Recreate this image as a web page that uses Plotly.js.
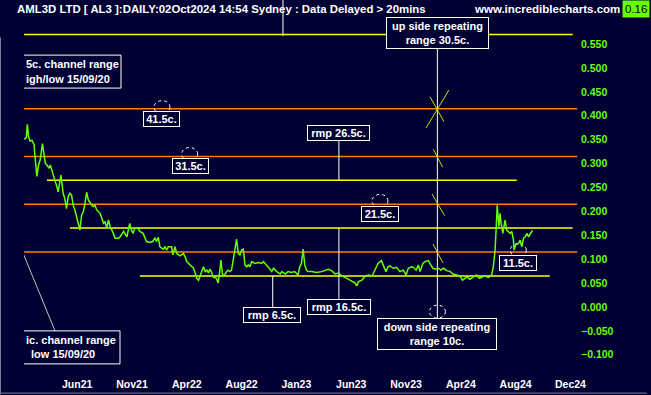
<!DOCTYPE html>
<html>
<head>
<meta charset="utf-8">
<script src="https://cdn.plot.ly/plotly-3.0.1.min.js"></script>
<style>html,body{margin:0;padding:0;background:#000033;}#chart{width:651px;height:395px;}</style>
</head>
<body>
<div id="chart"></div>
<script>
// ---- data (x = trading-day bar number, y = price in $) ----
const bars = [0,4,6,8,11,14,17,18,20,23,26,29,33,36,38,41,45,47,50,52,55,58,61,66,68,70,73,76,79,82,85,88,91,94,97,100,103,106,109,112,115,118,121,124,127,130,136,139,142,145,148,151,154,157,160,163,169,172,178,181,184,189,192,195,198,204,207,213,216,219,225,230,234,237,240,243,249,252,255,258,264,266,270,273,279,285,288,291,297,303,306,309,312,315,318,321,324,327,330,332,335,338,344,347,350,352,355,359,362,365,368,371,374,377,380,383,386,389,392,395,398,401,404,407,413,419,425,428,434,440,443,446,452,458,461,467,472,478,484,490,493,496,499,502,505,508,514,523,532,538,544,550,556,562,568,574,580,586,592,595,598,604,610,616,622,624,627,630,633,639,642,647,651,654,660,666,672,678,683,687,693,696,701,705,708,713,717,723,726,731,736,741,745,750,756,762,767,775,779,784,788,792,797,803,809,814,818,824,830,836,839,842,844,846,849,851,853,856,858,860,863,866,869,872,875,876,879,884,887,890,893,896,899,902,905,909];
const price = [0.351,0.354,0.382,0.356,0.347,0.349,0.342,0.339,0.311,0.273,0.297,0.308,0.342,0.318,0.301,0.297,0.290,0.297,0.287,0.276,0.266,0.255,0.241,0.276,0.255,0.238,0.227,0.206,0.231,0.238,0.234,0.213,0.203,0.189,0.178,0.161,0.192,0.199,0.217,0.240,0.224,0.217,0.213,0.210,0.213,0.203,0.196,0.186,0.175,0.178,0.165,0.182,0.168,0.161,0.151,0.144,0.144,0.147,0.158,0.151,0.147,0.175,0.161,0.154,0.165,0.165,0.158,0.154,0.146,0.137,0.135,0.137,0.144,0.137,0.146,0.126,0.121,0.126,0.119,0.126,0.126,0.109,0.126,0.112,0.107,0.112,0.105,0.095,0.088,0.081,0.071,0.060,0.056,0.067,0.074,0.084,0.074,0.077,0.071,0.079,0.074,0.063,0.060,0.050,0.074,0.098,0.067,0.067,0.074,0.077,0.074,0.077,0.098,0.119,0.142,0.112,0.109,0.119,0.121,0.088,0.084,0.088,0.084,0.095,0.091,0.093,0.091,0.095,0.088,0.079,0.074,0.081,0.074,0.069,0.074,0.069,0.074,0.072,0.074,0.067,0.084,0.091,0.121,0.088,0.077,0.074,0.074,0.072,0.074,0.076,0.079,0.076,0.069,0.071,0.065,0.062,0.058,0.053,0.050,0.044,0.053,0.056,0.065,0.067,0.065,0.069,0.077,0.084,0.091,0.097,0.088,0.074,0.084,0.086,0.081,0.083,0.074,0.077,0.067,0.081,0.084,0.083,0.077,0.088,0.074,0.091,0.095,0.097,0.090,0.081,0.079,0.081,0.077,0.081,0.076,0.074,0.069,0.067,0.065,0.056,0.060,0.063,0.058,0.063,0.067,0.060,0.062,0.065,0.062,0.067,0.084,0.116,0.161,0.213,0.168,0.196,0.175,0.154,0.168,0.182,0.161,0.158,0.154,0.158,0.140,0.119,0.130,0.133,0.140,0.126,0.144,0.147,0.154,0.147,0.154,0.160];
const tickBars = [95,193,291,389,487,585,683,781,879,977];
const tickText = ['Jun21','Nov21','Apr22','Aug22','Jan23','Jun23','Nov23','Apr24','Aug24','Dec24'];
const priceTicks = [-0.1,-0.05,0,0.05,0.1,0.15,0.2,0.25,0.3,0.35,0.4,0.45,0.5,0.55];
const orangeLevels = [0.415,0.315,0.215,0.115];
const yellowLevels = [0.57,0.265,0.165,0.065];
const rangeLabels = ['41.5c.','31.5c.','21.5c.','11.5c.'];
const lastPrice = 0.16;

// ---- styling ----
const BG = '#000033', GREEN = '#66ff00', ORANGE = '#ff8000', YELLOW = '#ffff00', WHITE = '#ffffff';
const FONT = 'Liberation Sans, Arial, sans-serif';

const shapes = [];
// orange channel lines
orangeLevels.forEach(v => shapes.push({type:'line', xref:'x', yref:'y', x0:-30, x1:989, y0:v, y1:v, line:{color:ORANGE, width:1.5}, layer:'below'}));
// yellow repeating-range lines
const yStart = [-30, 41, 82, 207], yEnd = [981, 881, 981, 940];
yellowLevels.forEach((v,i) => shapes.push({type:'line', xref:'x', yref:'y', x0:yStart[i], x1:yEnd[i], y0:v, y1:v, line:{color:YELLOW, width:1.5}, layer:'below'}));
// white connector lines
function wline(x0,y0,x1,y1,c){ shapes.push({type:'line', xref:'x', yref:'y', x0, y0, x1, y1, line:{color:c||WHITE, width:1}, layer:'below'}); }
wline(463, 0.567, 463, 0.7);
wline(739, 0.54, 739, -0.023);
wline(563, 0.347, 563, 0.265);
wline(563, 0.165, 563, 0.017);
wline(444.6, 0.065, 444.6, 0.0);
wline(-7, 0.128, 55.4, -0.050, '#c0c0c0');
// yellow tick marks on the range line
const TY = '#d8d800';
wline(718.7, 0.3745, 759.8, 0.454, TY);
wline(725.8, 0.44, 750.8, 0.3877, TY);
wline(731.7, 0.33, 748.5, 0.2923, TY);
wline(729.4, 0.2364, 752.1, 0.191, TY);
wline(731.2, 0.1318, 749.1, 0.092, TY);
// dashed circles
[[246.7,0.418],[296.2,0.320],[636.4,0.222],[883.7,0.119],[739.2,-0.0098]].forEach(c => shapes.push({
  type:'circle', xref:'x', yref:'y', xsizemode:'pixel', ysizemode:'pixel', xanchor:c[0], yanchor:c[1],
  x0:-8, x1:8, y0:-6.5, y1:6.5, line:{color:WHITE, width:1, dash:'dot'}, layer:'below'}));
// clipped boxes at left edge
shapes.push({type:'rect', xref:'x', yref:'y', x0:-30, x1:173.4, y0:0.458, y1:0.527, line:{color:WHITE, width:1}, fillcolor:BG, layer:'below'});
shapes.push({type:'rect', xref:'x', yref:'y', x0:-30, x1:171.6, y0:-0.119, y1:-0.050, line:{color:WHITE, width:1}, fillcolor:BG, layer:'below'});
// frame edges of the picture (left and bottom)
shapes.push({type:'line', xref:'paper', yref:'paper', x0:-0.0423, x1:-0.0423, y0:-0.049, y1:0.9, line:{color:'#8080a0', width:1}});
shapes.push({type:'line', xref:'paper', yref:'paper', x0:-0.0423, x1:1.12, y0:-0.0455, y1:-0.0455, line:{color:'#8080a0', width:1}});

const boxFont = {family:FONT, size:11, color:WHITE, weight:'bold'};
function box(text, x, y, w, h){
  const a = {text, x, y, xref:'x', yref:'y', showarrow:false, font:boxFont, bgcolor:BG, bordercolor:WHITE, borderwidth:1, borderpad:1, width:w, xanchor:'center', yanchor:'middle'};
  if (h) a.height = h;
  return a;
}
const annotations = [
  box(rangeLabels[0], 245.8, 0.394, 33),
  box(rangeLabels[1], 296.8, 0.294, 33),
  box(rangeLabels[2], 636.4, 0.1956, 34),
  box(rangeLabels[3], 883.2, 0.091, 34),
  box('rmp 26.5c.', 562.3, 0.365, 59),
  box('rmp 16.5c.', 563.2, -0.001, 60),
  box('rmp 6.5c.', 443.4, -0.0178, 54),
  box('up side repeating<br>range 30.5c.', 739.2, 0.573, 99, 28),
  box('down side repeating<br>range 10c.', 738.4, -0.0565, 116, 28),
  {text:'5c. channel range', x:0, y:0.508, xref:'x', yref:'y', xanchor:'left', yanchor:'middle', showarrow:false, font:boxFont},
  {text:'igh/low 15/09/20', x:0, y:0.477, xref:'x', yref:'y', xanchor:'left', yanchor:'middle', showarrow:false, font:boxFont},
  {text:'ic. channel range', x:0, y:-0.069, xref:'x', yref:'y', xanchor:'left', yanchor:'middle', showarrow:false, font:boxFont},
  {text:'low 15/09/20', x:8.9, y:-0.098, xref:'x', yref:'y', xanchor:'left', yanchor:'middle', showarrow:false, font:boxFont},
  {text:'AML3D LTD [ AL3 ]:DAILY:02Oct2024 14:54 Sydney : Data Delayed > 20mins', xref:'paper', yref:'paper', x:-0.0162, y:0.976, xanchor:'left', yanchor:'middle', showarrow:false, font:{family:FONT, size:11.4, color:WHITE, weight:'bold'}},
  {text:'www.incrediblecharts.com', xref:'paper', yref:'paper', x:1.0755, y:0.976, xanchor:'right', yanchor:'middle', showarrow:false, font:{family:FONT, size:11.5, color:WHITE, weight:'bold'}},
  {text:lastPrice.toFixed(2), xref:'paper', yref:'paper', x:1.1007, y:0.976, xanchor:'center', yanchor:'middle', showarrow:false, bgcolor:GREEN, borderpad:2, font:{family:FONT, size:11.5, color:'#000000'}}
];

const trace = {x:bars, y:price, type:'scatter', mode:'lines', line:{color:GREEN, width:1.5}, hoverinfo:'skip'};

const layout = {
  width:651, height:395,
  margin:{l:24, r:71, t:0, b:19, pad:0},
  paper_bgcolor:BG, plot_bgcolor:BG,
  showlegend:false,
  xaxis:{range:[0,994], tickvals:tickBars, ticktext:tickText, showgrid:false, zeroline:false, showline:false, ticks:'',
         tickfont:{family:FONT, size:10.5, color:WHITE, weight:'bold'}, fixedrange:true},
  yaxis:{range:[-0.1444,0.6423], side:'right', tickvals:priceTicks, tickformat:'.3f', showgrid:false, zeroline:false, showline:false, ticks:'',
         tickfont:{family:FONT, size:10.5, color:GREEN, weight:'bold'}, fixedrange:true},
  shapes, annotations
};
Plotly.newPlot('chart', [trace], layout, {displayModeBar:false, staticPlot:true});
</script>
</body>
</html>
